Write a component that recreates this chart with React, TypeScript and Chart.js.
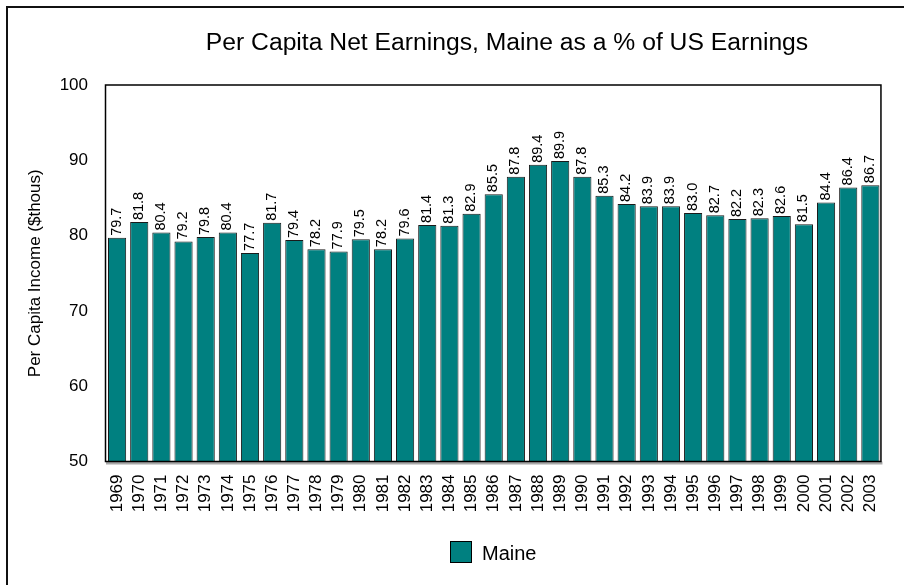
import React, { useEffect, useRef } from "react";
import { Chart, registerables } from "chart.js";

Chart.register(...registerables);

const years: string[] = [
  "1969", "1970", "1971", "1972", "1973", "1974", "1975", "1976", "1977", "1978",
  "1979", "1980", "1981", "1982", "1983", "1984", "1985", "1986", "1987", "1988",
  "1989", "1990", "1991", "1992", "1993", "1994", "1995", "1996", "1997", "1998",
  "1999", "2000", "2001", "2002", "2003",
];

const maineValues: number[] = [
  79.7, 81.8, 80.4, 79.2, 79.8, 80.4, 77.7, 81.7, 79.4, 78.2,
  77.9, 79.5, 78.2, 79.6, 81.4, 81.3, 82.9, 85.5, 87.8, 89.4,
  89.9, 87.8, 85.3, 84.2, 83.9, 83.9, 83.0, 82.7, 82.2, 82.3,
  82.6, 81.5, 84.4, 86.4, 86.7,
];

const seriesName = "Maine";
const chartTitle = "Per Capita Net Earnings, Maine as a % of US Earnings";
const yAxisTitle = "Per Capita Income ($thous)";
const yMin = 50;
const yMax = 100;
const yStep = 10;

const FONT = "'Liberation Sans', Arial, Helvetica, sans-serif";
const TEAL = "#008080";

const decorPlugin = {
  id: "decor",
  beforeDraw(chart: any) {
    const ctx = chart.ctx;
    ctx.save();
    ctx.fillStyle = "#ffffff";
    ctx.fillRect(0, 0, chart.width, chart.height);
    // outer frame (extends beyond right/bottom edges)
    ctx.strokeStyle = "#111111";
    ctx.lineWidth = 2;
    ctx.strokeRect(7, 7, chart.width + 20, chart.height + 20);
    ctx.restore();
  },
  afterDatasetsDraw(chart: any) {
    const ctx = chart.ctx;
    const area = chart.chartArea;
    ctx.save();
    // floor shadow under x axis
    ctx.fillStyle = "#a8a8a8";
    ctx.fillRect(area.left, area.bottom, area.right - area.left + 1, 3);
    // plot frame
    ctx.strokeStyle = "#000000";
    ctx.lineWidth = 1.5;
    ctx.strokeRect(area.left - 0.5, area.top, area.right - area.left, area.bottom - area.top);

    // data labels
    const meta = chart.getDatasetMeta(0);
    const data = chart.data.datasets[0].data as number[];
    ctx.fillStyle = "#000000";
    ctx.font = `14.5px ${FONT}`;
    ctx.textAlign = "left";
    ctx.textBaseline = "middle";
    meta.data.forEach((bar: any, i: number) => {
      const txt = data[i].toFixed(1);
      ctx.save();
      ctx.translate(bar.x - 0.5, bar.y - 2);
      ctx.rotate(-Math.PI / 2);
      ctx.fillText(txt, 0, 0);
      ctx.restore();
    });

    // title
    ctx.font = `24.7px ${FONT}`;
    ctx.textAlign = "center";
    ctx.textBaseline = "alphabetic";
    ctx.fillText(chartTitle, 507, 49.5);

    // legend
    const label = chart.data.datasets[0].label;
    ctx.fillStyle = TEAL;
    ctx.fillRect(450.5, 541.5, 21, 21);
    ctx.strokeStyle = "#000000";
    ctx.lineWidth = 1;
    ctx.strokeRect(450.5, 541.5, 21, 21);
    ctx.fillStyle = "#000000";
    ctx.font = `20px ${FONT}`;
    ctx.textAlign = "left";
    ctx.fillText(label, 482, 559.5);
    ctx.restore();
  },
};

export default function App() {
  const canvasRef = useRef<HTMLCanvasElement | null>(null);

  useEffect(() => {
    const canvas = canvasRef.current;
    if (!canvas) return;
    const chart = new Chart(canvas, {
      type: "bar",
      data: {
        labels: years,
        datasets: [
          {
            label: seriesName,
            data: maineValues,
            backgroundColor: TEAL,
            borderColor: "#1a1a1a",
            borderWidth: 1,
            barPercentage: 0.82,
            categoryPercentage: 1,
          },
        ],
      },
      options: {
        responsive: false,
        animation: false,
        devicePixelRatio: 1,
        layout: { padding: { left: 0, top: 85, right: 16, bottom: 0 } },
        plugins: {
          legend: { display: false },
          title: { display: false },
          tooltip: { enabled: false },
        },
        scales: {
          x: {
            offset: true,
            grid: { display: false, drawTicks: false },
            border: { display: false },
            ticks: {
              autoSkip: false,
              maxRotation: 90,
              minRotation: 90,
              padding: 13,
              color: "#000000",
              font: { family: FONT, size: 17 },
            },
            afterFit(scale: any) {
              scale.height = 123.5;
            },
          },
          y: {
            min: yMin,
            max: yMax,
            grid: { display: false, drawTicks: false },
            border: { display: false },
            ticks: {
              stepSize: yStep,
              padding: 18,
              color: "#000000",
              font: { family: FONT, size: 17 },
            },
            title: {
              display: true,
              text: yAxisTitle,
              color: "#000000",
              font: { family: FONT, size: 17 },
              padding: { top: 25, bottom: 0 },
            },
            afterFit(scale: any) {
              scale.width = 106;
            },
          },
        },
      },
      plugins: [decorPlugin],
    });
    return () => chart.destroy();
  }, []);

  return (
    <div style={{ position: "absolute", left: 0, top: 0, width: 904, height: 585, background: "#fff" }}>
      <canvas ref={canvasRef} width={904} height={585} style={{ display: "block", width: 904, height: 585 }} />
    </div>
  );
}
